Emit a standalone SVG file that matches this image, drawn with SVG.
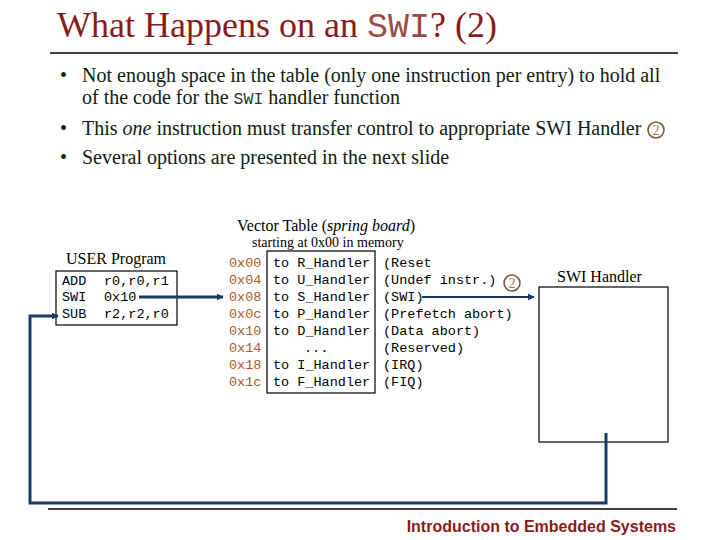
<svg xmlns="http://www.w3.org/2000/svg" width="720" height="540" viewBox="0 0 720 540">
<defs>
<style>
.title{font-family:"Liberation Serif",serif;font-size:36px;fill:#8b1a1a}
.tmono{font-family:"Liberation Mono",monospace;font-size:35px;fill:#a04848}
.b{font-family:"Liberation Serif",serif;font-size:20px;fill:#102010}
.bm{font-family:"Liberation Mono",monospace;font-size:16.5px;fill:#333}
.lbl{font-family:"Liberation Serif",serif;font-size:16px;fill:#000}
.small{font-family:"Liberation Serif",serif;font-size:14px;fill:#000}
.m{font-family:"Liberation Mono",monospace;font-size:13.5px;fill:#000}
.addr{font-family:"Liberation Mono",monospace;font-size:13.5px;fill:#b0582a}
.box{fill:none;stroke:#000;stroke-width:1.2}
.rule{stroke:#000;stroke-width:1.3}
.conn{fill:none;stroke:#1a3a66;stroke-width:3}
.conn2{fill:none;stroke:#1a3a66;stroke-width:2}
.circ{fill:none;stroke:#7a5a3a;stroke-width:1.6}
.cnum{font-family:"Liberation Serif",serif;font-size:14px;fill:#9a7a5a;text-anchor:middle}
.foot{font-family:"Liberation Sans",sans-serif;font-size:16px;font-weight:bold;fill:#8b1a1a;text-anchor:end}
</style>
<marker id="ah" viewBox="0 0 10 10" refX="9" refY="5" markerWidth="7" markerHeight="7" markerUnits="userSpaceOnUse" orient="auto"><path d="M0,0 L10,5 L0,10 z" fill="#1a3a66"/></marker>
</defs>
<g id="title">
<text class="title" x="57" y="37">What Happens on an <tspan class="tmono">SWI</tspan>? (2)</text>
<line class="rule" x1="50" y1="53" x2="678" y2="53"/>
</g>
<g id="bullets">
<text class="b" x="60" y="82">•</text>
<text class="b" x="82" y="82">Not enough space in the table (only one instruction per entry) to hold all</text>
<text class="b" x="82" y="104">of the code for the <tspan class="bm">SWI</tspan> handler function</text>
<text class="b" x="60" y="135">•</text>
<text class="b" x="82" y="135">This <tspan font-style="italic">one</tspan> instruction must transfer control to appropriate SWI Handler</text>
<circle class="circ" cx="656" cy="130" r="8"/>
<text class="cnum" x="656" y="135">2</text>
<text class="b" x="60" y="164">•</text>
<text class="b" x="82" y="164">Several options are presented in the next slide</text>
</g>
<g id="user-program">
<text class="lbl" x="66" y="264">USER Program</text>
<rect class="box" x="56" y="271" width="121" height="54"/>
<text class="m" x="62" y="285">ADD</text><text class="m" x="104" y="285">r0,r0,r1</text>
<text class="m" x="62" y="301">SWI</text><text class="m" x="104" y="301">0x10</text>
<text class="m" x="62" y="318">SUB</text><text class="m" x="104" y="318">r2,r2,r0</text>
</g>
<g id="vector-table">
<text class="lbl" x="237" y="231">Vector Table (<tspan font-style="italic">spring board</tspan>)</text>
<text class="small" x="252" y="247">starting at 0x00 in memory</text>
<rect class="box" x="267" y="251" width="108" height="142"/>
<text class="addr" x="229" y="267">0x00</text>
<text class="addr" x="229" y="284">0x04</text>
<text class="addr" x="229" y="301">0x08</text>
<text class="addr" x="229" y="318">0x0c</text>
<text class="addr" x="229" y="335">0x10</text>
<text class="addr" x="229" y="352">0x14</text>
<text class="addr" x="229" y="369">0x18</text>
<text class="addr" x="229" y="386">0x1c</text>
<text class="m" x="273" y="267">to R_Handler</text>
<text class="m" x="273" y="284">to U_Handler</text>
<text class="m" x="273" y="301">to S_Handler</text>
<text class="m" x="273" y="318">to P_Handler</text>
<text class="m" x="273" y="335">to D_Handler</text>
<text class="m" x="304" y="352">...</text>
<text class="m" x="273" y="369">to I_Handler</text>
<text class="m" x="273" y="386">to F_Handler</text>
<text class="m" x="383" y="267">(Reset</text>
<text class="m" x="383" y="284">(Undef instr.)</text>
<text class="m" x="383" y="301">(SWI)</text>
<text class="m" x="383" y="318">(Prefetch abort)</text>
<text class="m" x="383" y="335">(Data abort)</text>
<text class="m" x="383" y="352">(Reserved)</text>
<text class="m" x="383" y="369">(IRQ)</text>
<text class="m" x="383" y="386">(FIQ)</text>
<circle class="circ" cx="512" cy="283" r="8"/>
<text class="cnum" x="512" y="288">2</text>
</g>
<g id="swi-handler">
<text class="lbl" x="557" y="282">SWI Handler</text>
<rect class="box" x="539" y="287" width="129" height="155"/>
</g>
<g id="connectors">
<line class="conn" x1="139" y1="297" x2="223" y2="297" marker-end="url(#ah)"/>
<line class="conn2" x1="422" y1="297" x2="534" y2="297" marker-end="url(#ah)"/>
<polyline class="conn" points="606,433 606,503 30,503 30,316 58,316" marker-end="url(#ah)"/>
</g>
<g id="footer">
<line class="rule" x1="48" y1="509" x2="677" y2="509"/>
<text class="foot" x="676" y="532">Introduction to Embedded Systems</text>
</g>
</svg>
